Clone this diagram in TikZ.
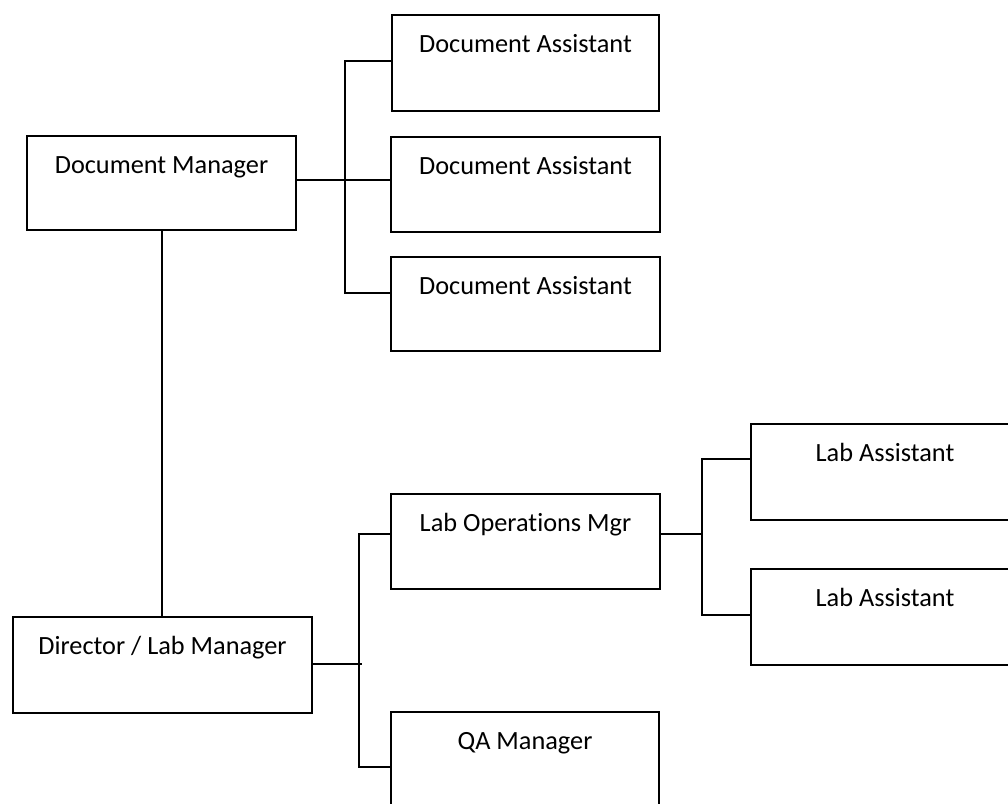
\documentclass[tikz,border=0pt]{standalone}
\usepackage{fontspec}
\setmainfont[Ligatures={NoCommon,NoRare}]{Carlito}
\begin{document}
\begin{tikzpicture}[x=1pt,y=-1pt,line width=2pt,
  orgbox/.style={draw=black,line width=2pt,rectangle,anchor=north west,inner xsep=0pt,inner ysep=0pt,
    font=\fontsize{26.3}{31}\selectfont,align=center,text height=37.5pt},
  conn/.style={draw=black,line width=2pt}]
\useasboundingbox (0,0) rectangle (1008,803);
\clip (0,0) rectangle (1008,803);
% boxes
\node[orgbox,minimum width=269pt,text depth=56.5pt] (dm) at (26,135) {Document Manager};
\node[orgbox,minimum width=267pt,text depth=58.5pt] (da1) at (391,14) {Document Assistant};
\node[orgbox,minimum width=269pt,text depth=57.5pt] (da2) at (390,136) {Document Assistant};
\node[orgbox,minimum width=269pt,text depth=56.5pt] (da3) at (390,256) {Document Assistant};
\node[orgbox,minimum width=299pt,text depth=58.5pt] (dir) at (12,616) {Director / Lab Manager};
\node[orgbox,minimum width=269pt,text depth=57.5pt] (lom) at (390,493) {Lab Operations Mgr};
\node[orgbox,minimum width=268pt,text depth=59.5pt] (qa) at (390,711) {QA Manager};
\node[orgbox,minimum width=268pt,text depth=58.5pt] (la1) at (750,423) {Lab Assistant};
\node[orgbox,minimum width=268pt,text depth=58.5pt] (la2) at (750,568) {Lab Assistant};
% junction coordinates
\coordinate (j1t) at (345,61);
\coordinate (j1m) at (345,180);
\coordinate (j1b) at (345,293);
\coordinate (j2t) at (359,534);
\coordinate (j2b) at (359,767);
\coordinate (j2tick) at (362,664);
\coordinate (j3t) at (702,459);
\coordinate (j3m) at (702,534);
\coordinate (j3b) at (702,615);
% document branch
\draw[conn] (dm.east |- j1m) -- (j1m);
\draw[conn] (j1t -| da1.west) -- (j1t) -- (j1b) -- (j1b -| da3.west);
\draw[conn] (j1m) -- (j1m -| da2.west);
% director
\draw[conn] (dm.south) -- (dm.south |- dir.north);
\draw[conn] (dir.east |- j2tick) -- (j2tick);
\draw[conn] (j2t -| lom.west) -- (j2t) -- (j2b) -- (j2b -| qa.west);
% lab ops branch
\draw[conn] (lom.east |- j3m) -- (j3m);
\draw[conn] (j3t -| la1.west) -- (j3t) -- (j3b) -- (j3b -| la2.west);
\end{tikzpicture}
\end{document}
